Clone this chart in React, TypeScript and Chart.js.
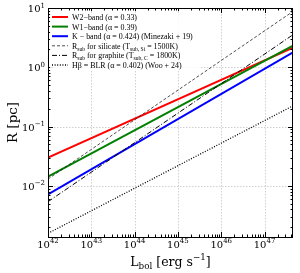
import React, { useEffect, useRef } from 'react';
import { Chart, registerables } from 'chart.js';
Chart.register(...registerables);

// ---- data ----
const lumRange = [1e42, 4.54e47];
const w2Band = [0.030, 2.15];
const w1Band = [0.0143, 2.31];
const kBand = [0.0072, 1.78];
const rSubSilicate = [0.013, 8.77];
const rSubGraphite = [0.0054, 3.54];
const hbetaBLR = [0.00158, 0.224];
const xTickExps = [42, 43, 44, 45, 46, 47];
const yTickExps = [-2, -1, 0, 1];
const xMin = 1e42, xMax = 4.54e47;
const yMin = 1.37e-3, yMax = 10;

type Seg = { t: string; s?: 'sub' | 'sup' };

const legendLabels: Seg[][] = [
  [{ t: 'W2−band (α = 0.33)' }],
  [{ t: 'W1−band (α = 0.39)' }],
  [{ t: 'K − band (α = 0.424) (Minezaki + 19)' }],
  [{ t: 'R' }, { t: 'sub', s: 'sub' }, { t: ' for silicate (T' }, { t: 'sub, Si', s: 'sub' }, { t: ' = 1500K)' }],
  [{ t: 'R' }, { t: 'sub', s: 'sub' }, { t: ' for graphite (T' }, { t: 'sub, C', s: 'sub' }, { t: ' = 1800K)' }],
  [{ t: 'Hβ = BLR (α = 0.402) (Woo + 24)' }],
];

const seriesValues = [w2Band, w1Band, kBand, rSubSilicate, rSubGraphite, hbetaBLR];
const colors = ['#ff0000', '#008000', '#0000ff', '#222222', '#000000', '#000000'];
const widths = [2, 2, 2, 0.8, 1, 1.3];
const dashes: number[][] = [[], [], [], [3, 2], [5, 2, 1, 2], [1, 1.6]];

const FAMILY = '"DejaVu Serif", "Liberation Serif", serif';
const LEGEND_FAMILY = '"Liberation Serif", "DejaVu Serif", serif';

function drawRich(ctx: CanvasRenderingContext2D, segs: Seg[], x: number, y: number, size: number, align: 'left' | 'center' | 'right', family = FAMILY) {
  const small = size * 0.7;
  const widthsArr = segs.map((sg) => {
    ctx.font = `${sg.s ? small : size}px ${family}`;
    return ctx.measureText(sg.t).width;
  });
  const total = widthsArr.reduce((a, b) => a + b, 0);
  let cx = align === 'left' ? x : align === 'center' ? x - total / 2 : x - total;
  ctx.textAlign = 'left';
  ctx.textBaseline = 'alphabetic';
  segs.forEach((sg, i) => {
    ctx.font = `${sg.s ? small : size}px ${family}`;
    const dy = sg.s === 'sub' ? size * 0.22 : sg.s === 'sup' ? -size * 0.45 : 0;
    ctx.fillText(sg.t, cx, y + dy);
    cx += widthsArr[i];
  });
  return total;
}

function minorVals(expLo: number, expHi: number, lo: number, hi: number) {
  const out: number[] = [];
  for (let n = expLo; n <= expHi; n++) {
    for (let k = 2; k <= 9; k++) {
      const v = k * Math.pow(10, n);
      if (v > lo && v < hi) out.push(v);
    }
  }
  return out;
}

const decorPlugin = {
  id: 'decor',
  beforeDatasetsDraw(chart: any) {
    const ctx: CanvasRenderingContext2D = chart.ctx;
    const { left, right, top, bottom } = chart.chartArea;
    const xs = chart.scales.x, ys = chart.scales.y;
    ctx.save();
    ctx.strokeStyle = '#c4c4c4';
    ctx.lineWidth = 0.8;
    ctx.setLineDash([1.5, 1.5]);
    xTickExps.forEach((e) => {
      const px = Math.round(xs.getPixelForValue(Math.pow(10, e))) + 0.5;
      ctx.beginPath(); ctx.moveTo(px, top); ctx.lineTo(px, bottom); ctx.stroke();
    });
    yTickExps.forEach((e) => {
      const py = Math.round(ys.getPixelForValue(Math.pow(10, e))) + 0.5;
      ctx.beginPath(); ctx.moveTo(left, py); ctx.lineTo(right, py); ctx.stroke();
    });
    ctx.restore();
  },
  afterDatasetsDraw(chart: any) {
    const ctx: CanvasRenderingContext2D = chart.ctx;
    const { left, right, top, bottom } = chart.chartArea;
    const xs = chart.scales.x, ys = chart.scales.y;
    ctx.save();
    ctx.strokeStyle = '#000';
    ctx.fillStyle = '#000';
    ctx.lineWidth = 1;
    ctx.setLineDash([]);
    // ticks
    const majLen = 5, minLen = 2.5;
    const xMinor = minorVals(42, 47, xMin, xMax);
    const yMinor = minorVals(-3, 0, yMin, yMax);
    const drawX = (v: number, len: number) => {
      const px = Math.round(xs.getPixelForValue(v)) + 0.5;
      ctx.beginPath();
      ctx.moveTo(px, bottom); ctx.lineTo(px, bottom - len);
      ctx.moveTo(px, top); ctx.lineTo(px, top + len);
      ctx.stroke();
    };
    const drawY = (v: number, len: number) => {
      const py = Math.round(ys.getPixelForValue(v)) + 0.5;
      ctx.beginPath();
      ctx.moveTo(left, py); ctx.lineTo(left + len, py);
      ctx.moveTo(right, py); ctx.lineTo(right - len, py);
      ctx.stroke();
    };
    xTickExps.forEach((e) => drawX(Math.pow(10, e), majLen));
    xMinor.forEach((v) => drawX(v, minLen));
    yTickExps.forEach((e) => drawY(Math.pow(10, e), majLen));
    yMinor.forEach((v) => drawY(v, minLen));
    // frame
    ctx.strokeRect(left + 0.5, top + 0.5, right - left - 1, bottom - top);
    // tick labels
    xTickExps.forEach((e) => {
      const px = xs.getPixelForValue(Math.pow(10, e));
      drawRich(ctx, [{ t: '10' }, { t: String(e), s: 'sup' }], px, bottom + 10.5, 10, 'center');
    });
    yTickExps.forEach((e) => {
      const py = ys.getPixelForValue(Math.pow(10, e));
      drawRich(ctx, [{ t: '10' }, { t: (e < 0 ? '−' : '') + Math.abs(e), s: 'sup' }], left - 3, py + 4, 10, 'right');
    });
    // axis titles
    drawRich(ctx, [{ t: 'L' }, { t: 'bol', s: 'sub' }, { t: ' [erg s' }, { t: '−1', s: 'sup' }, { t: ']' }], (left + right) / 2, 266, 12.5, 'center');
    ctx.save();
    ctx.translate(17, (top + bottom) / 2);
    ctx.rotate(-Math.PI / 2);
    drawRich(ctx, [{ t: 'R [pc]' }], 0, 0, 13.5, 'center');
    ctx.restore();
    // legend
    const lx = left + 2, ly = top + 3;
    ctx.fillStyle = 'rgba(255,255,255,0.85)';
    ctx.fillRect(lx, ly, 150, 60);
    ctx.fillStyle = '#000';
    // size legend text so the K-band entry spans ~121px
    ctx.font = `9px ${LEGEND_FAMILY}`;
    const kw = ctx.measureText('K − band (α = 0.424) (Minezaki + 19)').width;
    const fs = Math.min(10, 9 * 121 / kw);
    legendLabels.forEach((segs, i) => {
      const yy = 17 + i * 9.6;
      ctx.save();
      ctx.strokeStyle = colors[i];
      ctx.lineWidth = widths[i];
      ctx.setLineDash(dashes[i]);
      ctx.beginPath(); ctx.moveTo(52, yy); ctx.lineTo(68, yy); ctx.stroke();
      ctx.restore();
      ctx.fillStyle = '#000';
      drawRich(ctx, segs, 72, yy + 3, fs, 'left', LEGEND_FAMILY);
    });
    ctx.restore();
  },
};

export default function App() {
  const ref = useRef<HTMLCanvasElement | null>(null);
  useEffect(() => {
    document.body.style.margin = '0';
    const canvas = ref.current!;
    const datasets = seriesValues.map((vals, i) => ({
      label: legendLabels[i].map((s) => s.t).join(''),
      data: lumRange.map((x, j) => ({ x, y: vals[j] })),
      borderColor: colors[i],
      backgroundColor: colors[i],
      borderWidth: widths[i],
      borderDash: dashes[i],
      pointRadius: 0,
      tension: 0,
      fill: false,
      order: 10 - i,
    }));
    const chart = new Chart(canvas, {
      type: 'line',
      data: { datasets },
      options: {
        animation: false,
        responsive: false,
        devicePixelRatio: 1,
        layout: { padding: { left: 48, right: 7, top: 8, bottom: 36 } },
        plugins: { legend: { display: false }, tooltip: { enabled: false } },
        scales: {
          x: { type: 'logarithmic', min: xMin, max: xMax, bounds: 'data', display: false },
          y: { type: 'logarithmic', min: yMin, max: yMax, bounds: 'data', display: false },
        },
      },
      plugins: [decorPlugin],
    } as any);
    return () => chart.destroy();
  }, []);
  return (
    <div style={{ width: 300, height: 273, background: '#fff' }}>
      <canvas ref={ref} width={300} height={273} style={{ display: 'block' }} />
    </div>
  );
}
